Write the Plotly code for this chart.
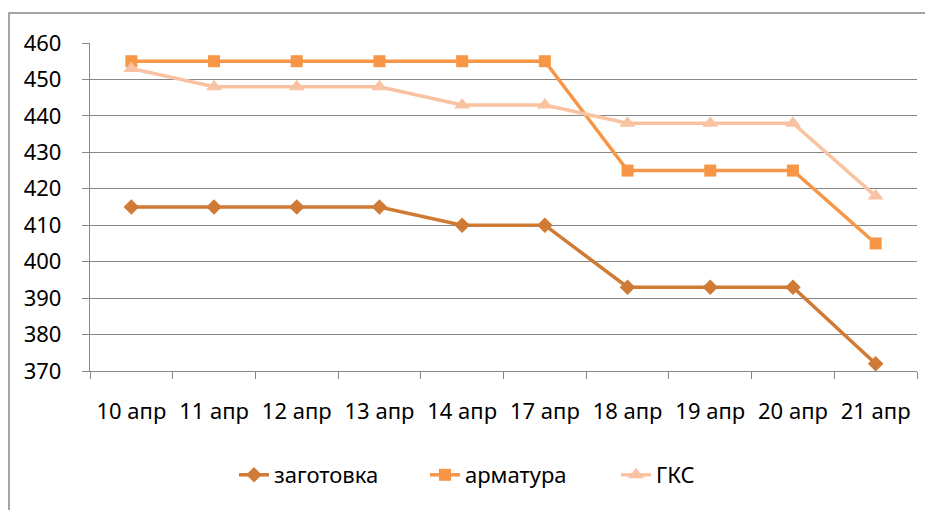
import plotly.graph_objects as go

categories = ["10 апр", "11 апр", "12 апр", "13 апр", "14 апр", "17 апр", "18 апр", "19 апр", "20 апр", "21 апр"]
zagotovka = [415, 415, 415, 415, 410, 410, 393, 393, 393, 372]
armatura = [455, 455, 455, 455, 455, 455, 425, 425, 425, 405]
gks = [453, 448, 448, 448, 443, 443, 438, 438, 438, 418]
series_names = ["заготовка", "арматура", "ГКС"]
y_ticks = [370, 380, 390, 400, 410, 420, 430, 440, 450, 460]

FONT = "Noto Sans, Open Sans, sans-serif"
FS = 22

fig = go.Figure()
fig.add_trace(go.Scatter(x=categories, y=zagotovka, name=series_names[0], mode="lines+markers",
                         line=dict(color="#CF7A35", width=3.5),
                         marker=dict(symbol="diamond", size=12, color="#CF7A35")))
fig.add_trace(go.Scatter(x=categories, y=armatura, name=series_names[1], mode="lines+markers",
                         line=dict(color="#F79646", width=3.5),
                         marker=dict(symbol="square", size=12, color="#F79646")))
fig.add_trace(go.Scatter(x=categories, y=gks, name=series_names[2], mode="lines+markers",
                         line=dict(color="#F9C3A2", width=3.5),
                         marker=dict(symbol="triangle-up", size=14, color="#F9C3A2")))

OFF = 8  # page body margin
W, H = 933 - OFF, 510 - OFF
L, R, T, B = 90 - OFF, 16, 43 - OFF, 139
pw, ph = W - L - R, H - T - B

def px(x):
    return (x - OFF - L) / pw

def py(y):
    return (H - B - (y - OFF)) / ph

fig.update_layout(
    width=W, height=H,
    margin=dict(l=L, r=R, t=T, b=B, autoexpand=False),
    paper_bgcolor="white", plot_bgcolor="white",
    font=dict(family=FONT, size=FS, color="#000000"),
    showlegend=True,
    legend=dict(orientation="h", x=px(234), xanchor="left", y=py(475), yanchor="middle",
                entrywidth=146, entrywidthmode="pixels",
                font=dict(family=FONT, size=FS), traceorder="normal"),
    xaxis=dict(type="category", range=[-0.5, len(categories) - 0.5], autorange=False,
               showgrid=False, showline=True, linecolor="#868686", linewidth=1.3,
               ticks="outside", tickson="boundaries", ticklen=7, tickcolor="#868686",
               ticklabelstandoff=20, tickfont=dict(size=FS)),
    yaxis=dict(range=[370, 460], tickvals=y_ticks, showgrid=True, gridcolor="#868686", gridwidth=1.3,
               showline=True, linecolor="#868686", linewidth=1.3, ticks="outside", ticklen=7,
               tickcolor="#868686", zeroline=False, ticklabelstandoff=16, tickfont=dict(size=FS)),
    shapes=[dict(type="rect", xref="paper", yref="paper",
                 x0=px(9), x1=px(960), y0=py(540), y1=py(13),
                 line=dict(color="#868686", width=1.5), fillcolor="rgba(0,0,0,0)", layer="below")],
)

fig.write_html("out.html")
